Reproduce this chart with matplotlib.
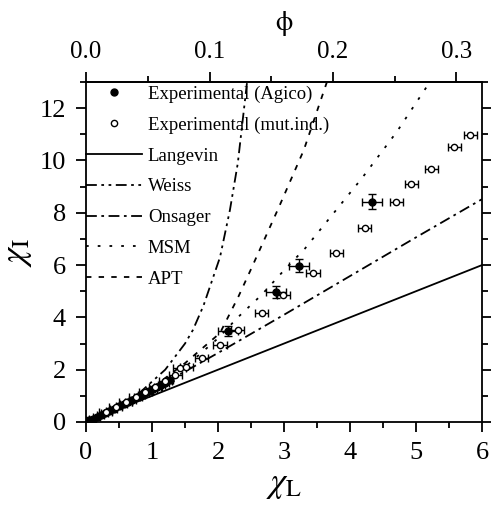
import matplotlib
matplotlib.use("Agg")
import matplotlib.pyplot as plt
from matplotlib.lines import Line2D
from matplotlib.ticker import MultipleLocator, FixedLocator, FormatStrFormatter

plt.rcParams['font.family'] = ['Liberation Serif', 'DejaVu Serif']
plt.rcParams['mathtext.fontset'] = 'stix'

# theory curves
lang_x = [0, 6]
lang_y = [0, 6]
weiss_x = [0, 0.4, 0.8, 1.2, 1.5, 1.62, 1.78, 2.03, 2.18, 2.3, 2.44]
weiss_y = [0, 0.46, 1.09, 2.0, 3.0, 3.52, 4.45, 6.3, 8.1, 9.9, 13.0]
ons_x = [0, 1, 2, 3, 4, 5, 6]
ons_y = [0, 1.22, 2.64, 4.10, 5.58, 7.06, 8.52]
msm_x = [0, 0.5, 1.0, 1.5, 2.0, 2.3, 2.66, 3.0, 3.32, 3.75, 4.18, 4.71, 5.21]
msm_y = [0, 0.56, 1.25, 2.1, 3.2, 4.0, 4.86, 5.8, 6.64, 7.98, 9.32, 11.1, 13.0]
apt_x = [0, 0.5, 1.0, 1.5, 2.03, 2.31, 2.51, 2.92, 3.3, 3.65]
apt_y = [0, 0.57, 1.3, 2.25, 3.4, 4.8, 5.9, 8.2, 10.4, 13.0]

# experimental points
agico_x = [0.0, 0.05, 0.1, 0.16, 0.22, 0.28, 0.35, 0.42, 0.5, 0.57, 0.64, 0.7, 0.77,
           0.84, 0.9, 0.96, 1.02, 1.08, 1.14, 1.2, 1.27, 2.15, 2.88, 3.23, 4.33]
agico_y = [0.0, 0.06, 0.12, 0.19, 0.27, 0.34, 0.42, 0.51, 0.61, 0.69, 0.78, 0.86, 0.95,
           1.04, 1.11, 1.19, 1.27, 1.35, 1.43, 1.51, 1.61, 3.48, 4.98, 5.98, 8.42]
agico_xe = [0.05] * 21 + [0.15, 0.15, 0.15, 0.15]
agico_ye = [0.06] * 21 + [0.2, 0.22, 0.25, 0.28]

mut_x = [0.3, 0.45, 0.6, 0.75, 0.9, 1.05, 1.2, 1.35, 1.42, 1.52, 1.75, 2.03, 2.3,
         2.66, 2.99, 3.44, 3.79, 4.22, 4.70, 4.93, 5.23, 5.58, 5.82]
mut_y = [0.37, 0.56, 0.76, 0.95, 1.15, 1.35, 1.55, 1.8, 2.05, 2.11, 2.43, 2.94, 3.5,
         4.18, 4.85, 5.69, 6.45, 7.41, 8.42, 9.09, 9.66, 10.5, 10.97]
mut_xe = [0.1] * len(mut_x)

phi_ticks = [0.0, 0.1, 0.2, 0.3]
phi_per_chi = 0.05345

fig = plt.figure(figsize=(4.91, 5.08), dpi=100)
ax = fig.add_axes([0.1752, 0.1693, 0.8065, 0.6693])

ax.errorbar(agico_x, agico_y, xerr=agico_xe, yerr=agico_ye, fmt='o', color='black',
            ms=5, capsize=2.6, elinewidth=1)
ax.errorbar(mut_x, mut_y, xerr=mut_xe, fmt='o', color='black', mfc='white', mew=1,
            ms=4.5, capsize=2.6, elinewidth=1)
l_lang, = ax.plot(lang_x, lang_y, color='black', lw=1.3)
l_weiss, = ax.plot(weiss_x, weiss_y, color='black', lw=1.3, ls=(0, (6, 2.5, 1.5, 2.5, 1.5, 2.5)))
l_ons, = ax.plot(ons_x, ons_y, color='black', lw=1.3, ls=(0, (6, 2.5, 1.5, 2.5)))
l_msm, = ax.plot(msm_x, msm_y, color='black', lw=1.3, ls=(0, (1.5, 5)))
l_apt, = ax.plot(apt_x, apt_y, color='black', lw=1.3, ls=(0, (3, 4)))

h_agico = Line2D([], [], marker='o', ls='none', color='black', ms=5)
h_mut = Line2D([], [], marker='o', ls='none', color='black', mfc='white', mew=1, ms=4.5)

ax.set_xlim(0, 6)
ax.set_ylim(0, 13)
ax.xaxis.set_major_locator(MultipleLocator(1))
ax.xaxis.set_minor_locator(MultipleLocator(0.5))
ax.yaxis.set_major_locator(MultipleLocator(2))
ax.yaxis.set_minor_locator(MultipleLocator(1))
for s in ax.spines.values():
    s.set_linewidth(1.3)
ax.tick_params(which='both', direction='out', width=1.3, labelsize=19, top=False, pad=7)
ax.tick_params(which='major', length=7.5)
ax.tick_params(which='minor', length=4.5)
ax.tick_params(axis='y', which='both', right=True, labelright=False)
ax.set_xlabel(r'$\chi_{\mathrm{L}}$', fontsize=25, labelpad=3)
ax.set_ylabel(r'$\chi_{\mathrm{I}}$', fontsize=25, labelpad=4)

top = ax.secondary_xaxis('top', functions=(lambda v: v * phi_per_chi, lambda p: p / phi_per_chi))
top.xaxis.set_major_locator(FixedLocator(phi_ticks))
top.xaxis.set_minor_locator(FixedLocator([0.05, 0.15, 0.25]))
top.xaxis.set_major_formatter(FormatStrFormatter('%.1f'))
top.tick_params(which='both', direction='out', width=1.3, labelsize=18, pad=6)
top.tick_params(which='major', length=7.5)
top.tick_params(which='minor', length=4.5)
top.spines['top'].set_linewidth(1.3)
top.set_xlabel(r'$\mathrm{\phi}$', fontsize=20, labelpad=8)

ax.legend([h_agico, h_mut, l_lang, l_weiss, l_ons, l_msm, l_apt],
          ['Experimental (Agico)', 'Experimental (mut.ind.)', 'Langevin', 'Weiss',
           'Onsager', 'MSM', 'APT'],
          loc='upper left', bbox_to_anchor=(0, 0.99), frameon=False, fontsize=13.5,
          handlelength=3.0, handletextpad=0.3, borderpad=0, borderaxespad=0,
          labelspacing=0.73, numpoints=1)

fig.savefig('out.png', dpi=100)
